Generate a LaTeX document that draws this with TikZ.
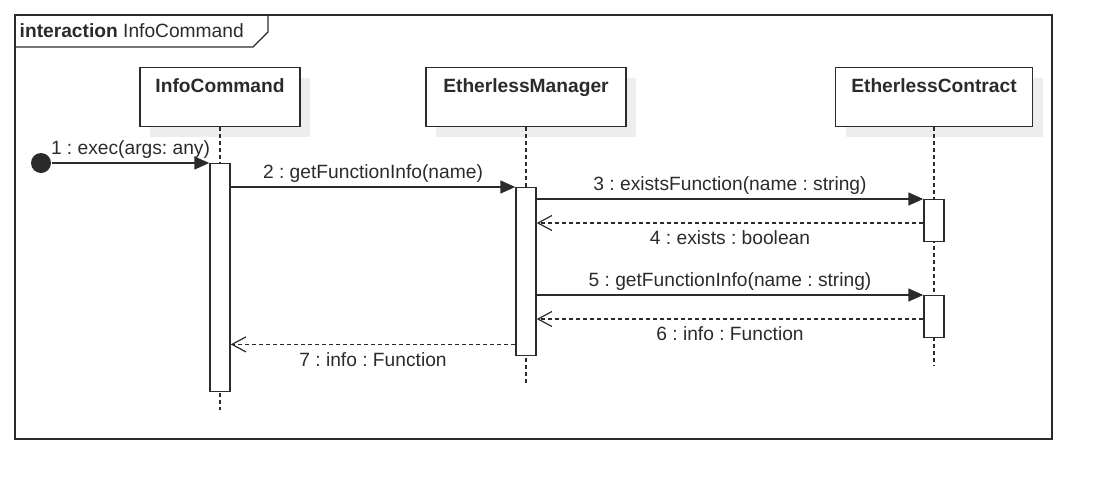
\documentclass[tikz,border=0pt]{standalone}
\usepackage{fontspec}
\setmainfont{Liberation Sans}
\frenchspacing
\usetikzlibrary{arrows.meta,positioning,shadows}
\definecolor{inkgray}{gray}{0.17}
\definecolor{shadowgray}{gray}{0.93}

\begin{document}
\begin{tikzpicture}[x=1pt,y=-1pt,color=inkgray,line width=1.4pt,
  font=\fontsize{19.2}{23}\selectfont,
  head/.style={draw,fill=white,anchor=north,inner sep=0pt,text height=25pt,text depth=34pt,
    font=\fontsize{19.2}{23}\selectfont\bfseries,
    drop shadow={shadow xshift=10pt,shadow yshift=-10pt,fill=shadowgray,opacity=1}},
  act/.style={draw,fill=white,anchor=north,minimum width=20pt,inner sep=0pt},
  life/.style={dash pattern=on 4pt off 3pt,line width=1.2pt},
  call/.style={-{Triangle[length=15pt,width=13pt]}},
  reply/.style={dash pattern=on 4pt off 3pt,line width=1.2pt,-{Straight Barb[length=14pt,width=15pt]}}]
  \useasboundingbox (0,0) rectangle (1111,499);
  \draw (15,15) rectangle (1052,439);
  \draw (15,47) -- (253,47) -- (268,32) -- (268,15);
  \node[anchor=base west,inner sep=0pt] (title) at (19,37) {\textbf{interaction} InfoCommand};
  \node[head,minimum width=160pt] (infoCmd) at (220,67) {InfoCommand};
  \node[head,minimum width=200pt] (manager) at (526,67) {EtherlessManager};
  \node[head,minimum width=197pt] (contract) at (934,67) {EtherlessContract};
  \coordinate (infoEnd) at (220,410);
  \coordinate (managerEnd) at (526,383);
  \coordinate (contractEnd) at (934,366);
  \draw[life] (infoCmd.south) -- (infoEnd);
  \draw[life] (manager.south) -- (managerEnd);
  \draw[life] (contract.south) -- (contractEnd);
  \node[act,minimum height=228pt] (actInfo) at (220,163) {};
  \node[act,minimum height=168pt] (actMgr) at (526,187) {};
  \node[act,minimum height=42pt] (actExists) at (934,199) {};
  \node[act,minimum height=42pt] (actGet) at (934,295) {};
  \node[circle,fill=inkgray,minimum size=20pt,inner sep=0pt] (start) at (41,163) {};
  \draw[call] (start) -- (actInfo.north west) node[midway,above] {1 : exec(args: any)};
  \draw[call] (actInfo.east |- actMgr.north) -- (actMgr.north west) node[midway,above] {2 : getFunctionInfo(name)};
  \draw[call] (actMgr.east |- actExists.north) -- (actExists.north west) node[midway,above] {3 : existsFunction(name : string)};
  \coordinate (r4) at ([yshift=-24pt]actExists.north west);
  \draw[reply] (r4) -- (r4 -| actMgr.east) node[midway,below=4pt] {4 : exists : boolean};
  \draw[call] (actMgr.east |- actGet.north) -- (actGet.north west) node[midway,above] {5 : getFunctionInfo(name : string)};
  \coordinate (r6) at ([yshift=-24pt]actGet.north west);
  \draw[reply] (r6) -- (r6 -| actMgr.east) node[midway,below=4pt] {6 : info : Function};
  \coordinate (r7) at ([yshift=12pt]actMgr.south west);
  \draw[reply] (r7) -- (r7 -| actInfo.east) node[midway,below=4pt] {7 : info : Function};
\end{tikzpicture}
\end{document}
